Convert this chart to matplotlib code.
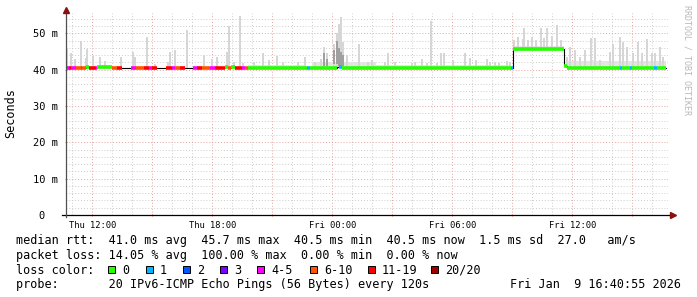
import numpy as np
import matplotlib
matplotlib.use("Agg")
import matplotlib.pyplot as plt
from matplotlib.patches import Rectangle

W, H = 697, 297
MONO = "DejaVu Sans Mono"

# hours since Thu 00:00; end of data = Fri 16:40:55
T_START, T_END = 10.68, 40.78

LOSS_COLORS = ["#26ff00", "#00b8ff", "#0059ff", "#7e00ff",
               "#ff00ff", "#ff5500", "#ff0000", "#a10000"]
LOSS_LABELS = ["0", "1", "2", "3", "4-5", "6-10", "11-19", "20/20"]

# median rtt segments: start, end (hours), value (ms), loss colour index (-1 = no colour)
med_start = [10.68, 10.83, 10.93, 11.18, 11.43, 11.48, 11.68, 11.83, 12.18, 12.23,
             12.98, 13.23, 13.48, 13.93, 14.18, 14.58, 14.83, 14.98, 15.23, 15.68,
             15.98, 16.13, 16.38, 16.63, 17.03, 17.23, 17.48, 17.88, 18.13, 18.63,
             18.78, 18.93, 19.13, 19.48, 19.63, 19.78, 22.73, 22.88, 24.23, 24.33,
             24.48, 32.93, 33.03, 35.58, 35.73, 38.38, 38.48, 38.88, 38.98, 40.08,
             40.23]
med_end = med_start[1:] + [40.68]
med_val = [40.5, 40.5, 40.5, 40.5, 40.5, 40.5, 40.6, 40.5, 40.5, 40.6,
           40.5, 40.5, 40.4, 40.5, 40.5, 40.5, 40.5, 40.5, 40.4, 40.5,
           40.5, 40.5, 40.5, 40.4, 40.5, 40.5, 40.5, 40.5, 40.5, 40.6,
           40.5, 40.6, 40.5, 40.5, 40.5, 40.5, 40.5, 40.5, 40.6, 40.7,
           40.5, 40.5, 45.6, 41.0, 40.5, 40.5, 40.5, 40.5, 40.5, 40.5,
           40.5]
med_loss = [4, 6, 4, 5, 4, 5, 0, 6, 4, 0,
            5, 6, -1, 4, 5, 6, 4, 6, -1, 6,
            4, 5, 6, -1, 4, 6, 5, 4, 6, 0,
            5, 0, 6, 4, 5, 0, 1, 0, -1, 1,
            0, 1, 0, 0, 0, 1, 0, 1, 0, 1,
            0]

# smoke spikes: time (hours), max ping (ms)
spike_t = [10.73, 10.93, 11.13, 11.43, 11.68, 11.73, 12.03, 12.38, 12.63, 13.43,
           14.03, 14.13, 14.73, 15.13, 15.78, 15.88, 16.13, 16.73, 17.58, 17.98,
           18.23, 18.73, 18.83, 19.08, 19.38, 19.53, 20.08, 20.53, 20.83, 21.23,
           21.53, 22.28, 22.63, 23.13, 23.43, 23.58, 23.73, 24.08, 24.23, 24.33,
           24.43, 24.53, 24.73, 25.33, 25.78, 25.98, 26.03, 26.63, 26.78, 27.13,
           27.98, 28.13, 28.48, 28.73, 28.93, 29.23, 29.43, 29.58, 30.03, 30.63,
           30.88, 31.18, 31.73, 31.88, 32.13, 32.33, 32.73, 32.88, 33.08, 33.28,
           33.53, 33.58, 33.78, 33.98, 34.18, 34.43, 34.58, 34.73, 34.98, 35.23,
           35.43, 35.73, 35.88, 36.13, 36.38, 36.63, 36.93, 37.13, 37.38, 37.88,
           38.03, 38.38, 38.53, 38.73, 39.03, 39.28, 39.48, 39.73, 39.98, 40.13,
           40.38, 40.53]
spike_top = [45.9, 44.5, 42.9, 47.8, 43.1, 45.6, 43.7, 43.4, 42.3, 43.4,
             44.8, 43.4, 48.9, 41.5, 42.0, 44.8, 45.3, 50.8, 44.0, 42.9,
             43.4, 45.0, 51.9, 42.0, 54.9, 41.8, 42.0, 44.5, 42.6, 43.7,
             42.0, 42.0, 43.4, 42.0, 42.9, 46.2, 44.5, 47.2, 50.0, 52.7,
             54.4, 47.5, 44.0, 47.2, 42.0, 42.6, 41.2, 42.0, 44.5, 42.0,
             41.8, 42.0, 42.9, 41.8, 53.3, 41.8, 44.5, 44.5, 42.6, 44.5,
             43.1, 42.6, 42.9, 42.0, 42.0, 41.8, 42.3, 42.0, 48.1, 48.9,
             48.4, 51.6, 48.1, 48.9, 48.1, 51.4, 48.6, 51.4, 49.4, 52.2,
             48.1, 43.4, 46.2, 45.3, 43.4, 45.3, 48.6, 48.6, 42.6, 44.8,
             47.2, 48.9, 47.5, 46.2, 44.5, 47.5, 44.5, 48.4, 44.5, 44.5,
             46.2, 43.4]

# denser smoke around midnight: time, bottom, top (ms)
dark_t = [23.58, 23.73, 24.08, 24.23, 24.33, 24.43, 24.53]
dark_bottom = [41.0, 41.0, 41.5, 41.5, 41.0, 41.0, 41.0]
dark_top = [44.5, 43.0, 45.5, 48.0, 46.0, 45.0, 44.0]

# haze just above the median: start, end (hours), top (ms)
haze_start = [19.8, 23.0, 26.2, 33.03, 35.73]
haze_end = [22.7, 26.2, 32.9, 35.58, 40.68]
haze_top = [41.3, 42.0, 41.4, 46.6, 42.4]

xtick_hours = [12, 18, 24, 30, 36]
xtick_labels = ["Thu 12:00", "Thu 18:00", "Fri 00:00", "Fri 06:00", "Fri 12:00"]
ytick_vals = [0, 10, 20, 30, 40, 50]

rtt_stats = ["41.0 ms avg", "45.7 ms max", "40.5 ms min", "40.5 ms now", "1.5 ms sd", "27.0   am/s"]
loss_stats = ["14.05 % avg", "100.00 % max", "0.00 % min", "0.00 % now"]
probe_text = "20 IPv6-ICMP Echo Pings (56 Bytes) every 120s"
stamp = "Fri Jan  9 16:40:55 2026"


def median_at(t):
    idx = np.searchsorted(med_start, t, side="right") - 1
    return np.asarray(med_val)[np.clip(idx, 0, len(med_val) - 1)]


def fx(px):
    return px / W


def fy(py):
    return 1 - py / H


fig = plt.figure(figsize=(W / 100, H / 100), dpi=100)
fig.patch.set_facecolor("white")
ax = fig.add_axes([fx(66), fy(215), (668 - 66) / W, (215 - 13) / H])
ax.set_xlim(T_START, T_END)
ax.set_ylim(0, 55.6)

# grid
ax.set_xticks(np.arange(12, 41, 3))
ax.set_xticks(np.arange(11, 41, 1), minor=True)
ax.set_yticks(ytick_vals)
ax.set_yticks(np.arange(0, 56, 2), minor=True)
ax.grid(which="minor", color="#cccccc", linestyle=(0, (1, 2)), linewidth=0.7)
ax.grid(which="major", color="#e6a3a3", linestyle=(0, (1, 2)), linewidth=0.7)
ax.set_axisbelow(True)

labels = {h: s for h, s in zip(xtick_hours, xtick_labels)}
ax.set_xticklabels([labels.get(h, "") for h in np.arange(12, 41, 3)],
                   fontfamily=MONO, fontsize=6.3)
ax.set_yticklabels([f"{v} m" if v else "0  " for v in ytick_vals],
                   fontfamily=MONO, fontsize=7.5)
ax.tick_params(axis="x", which="major", length=2, color="#d08080", pad=3, direction="inout")
ax.tick_params(axis="y", which="major", length=2, color="#d08080", pad=5, direction="inout")
ax.tick_params(which="minor", length=0)

for s in ax.spines.values():
    s.set_visible(False)

# haze
for s0, s1, top in zip(haze_start, haze_end, haze_top):
    ax.fill_between([s0, s1], [median_at(s0)] * 2, [top] * 2, color="#e4e4e4", lw=0, zorder=1)

# smoke
spike_t = np.array(spike_t)
base = median_at(spike_t)
ax.bar(spike_t, np.array(spike_top) - base, bottom=base, width=0.1,
       color="#d6d6d6", linewidth=0, zorder=2)
ax.bar(dark_t, np.array(dark_top) - np.array(dark_bottom), bottom=dark_bottom,
       width=0.1, color="#a0a0a0", linewidth=0, zorder=2)

# median line
xs, ys = [], []
for s0, s1, v in zip(med_start, med_end, med_val):
    xs += [s0, s1]
    ys += [v, v]
ax.plot(xs, ys, color="black", lw=0.8, zorder=3)
for s0, s1, v, k in zip(med_start, med_end, med_val, med_loss):
    if k >= 0:
        ax.hlines(v, s0, s1, colors=LOSS_COLORS[k], lw=2.6, zorder=4)

# axis lines with arrows
ax.plot([-0.007, 1.007], [0, 0], transform=ax.transAxes, color="black", lw=0.9, clip_on=False, zorder=5)
ax.plot([0, 0], [-0.01, 1.01], transform=ax.transAxes, color="#505050", lw=0.9, clip_on=False, zorder=5)
ax.plot([1.008], [0], transform=ax.transAxes, marker=">", ms=4, color="#8b1010", clip_on=False, zorder=6)
ax.plot([0], [1.015], transform=ax.transAxes, marker="^", ms=4, color="#8b1010", clip_on=False, zorder=6)

fig.text(fx(11), fy(113), "Seconds", rotation=90, fontfamily=MONO, fontsize=8.5,
         ha="center", va="center")
fig.text(fx(687), fy(5), "RRDTOOL / TOBI OETIKER", rotation=270, fontfamily=MONO,
         fontsize=6, color="#b8b8b8", ha="center", va="top")

# legend
tk = dict(fontfamily=MONO, fontsize=8.5, va="baseline", ha="left")
fig.text(fx(16), fy(244.3), "median rtt:  " + "  ".join(rtt_stats), **tk)
fig.text(fx(16), fy(259.0), "packet loss: " + "  ".join(loss_stats), **tk)
fig.text(fx(16), fy(273.5), "loss color:", **tk)
fig.text(fx(16), fy(288.0), "probe:       " + probe_text, **tk)
fig.text(fx(681), fy(288.0), stamp, fontfamily=MONO, fontsize=8.5, va="baseline", ha="right")

box_x = [108, 146, 183, 220, 257, 310, 368, 431]
for bx, c, lab in zip(box_x, LOSS_COLORS, LOSS_LABELS):
    fig.patches.append(Rectangle((fx(bx), fy(272.5)), 7 / W, 7 / H, transform=fig.transFigure,
                                 facecolor=c, edgecolor="black", lw=0.7))
    fig.text(fx(bx + 14), fy(273.5), lab, **tk)

fig.savefig("out.png", dpi=100)
